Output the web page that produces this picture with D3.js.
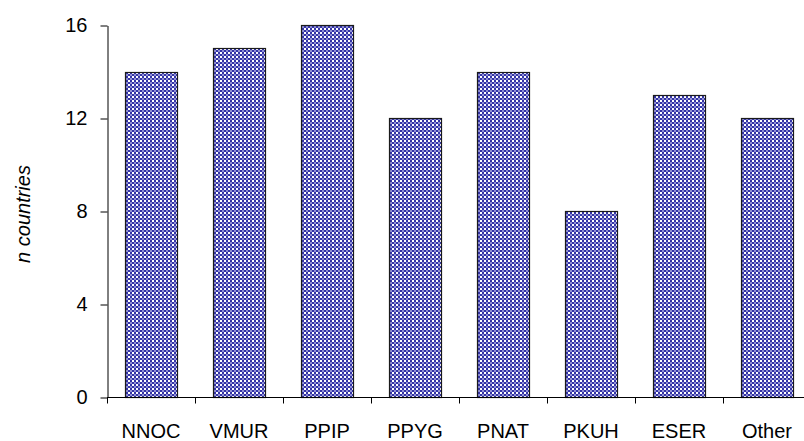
<!DOCTYPE html>
<html>
<head>
<meta charset="utf-8">
<script src="https://cdn.jsdelivr.net/npm/d3@7/dist/d3.min.js"></script>
<style>
  html, body { margin: 0; padding: 0; background: #fff; }
  svg { display: block; font-family: "Liberation Sans", Arial, sans-serif; }
</style>
</head>
<body>
<script>
// Species codes along the x axis
const categories = ["NNOC", "VMUR", "PPIP", "PPYG", "PNAT", "PKUH", "ESER", "Other"];
// Number of countries per species
const countries = [14, 15, 16, 12, 14, 8, 13, 12];
// Y-axis tick values
const yTicks = [0, 4, 8, 12, 16];

const width = 804, height = 441;
const plot = { left: 107, right: 811, top: 25, bottom: 397 };
const fontSize = 20;

const svg = d3.select("body").append("svg")
  .attr("width", width).attr("height", height);

// Checkered fill for the bars
const defs = svg.append("defs");
const pat = defs.append("pattern")
  .attr("id", "checker")
  .attr("patternUnits", "userSpaceOnUse")
  .attr("width", 4).attr("height", 4);
pat.append("rect").attr("width", 4).attr("height", 4).attr("fill", "#3434a6");
pat.append("rect").attr("x", 0).attr("y", 0).attr("width", 2).attr("height", 2).attr("fill", "#ffffff");
pat.append("rect").attr("x", 2).attr("y", 2).attr("width", 2).attr("height", 2).attr("fill", "#9090d4");

const x = d3.scaleBand()
  .domain(categories)
  .range([plot.left, plot.right])
  .paddingInner(36 / 88)
  .paddingOuter(18 / 88);

const y = d3.scaleLinear()
  .domain([0, 16])
  .range([plot.bottom, plot.top]);

// Bars
svg.append("g").selectAll("rect")
  .data(categories.map((c, i) => ({ c, v: countries[i] })))
  .join("rect")
  .attr("x", d => Math.round(x(d.c)) + 0.5)
  .attr("y", d => Math.round(y(d.v)) + 0.5)
  .attr("width", Math.round(x.bandwidth()))
  .attr("height", d => Math.round(y(0)) - Math.round(y(d.v)))
  .attr("fill", "url(#checker)")
  .attr("stroke", "#1a1a1a")
  .attr("stroke-width", 1.2);

// Y axis
const yAxis = d3.axisLeft(y).tickValues(yTicks).tickSize(7).tickPadding(13).tickSizeOuter(0);
const gy = svg.append("g")
  .attr("transform", `translate(${plot.left + 0.5},0.5)`)
  .call(yAxis);
gy.select(".domain").attr("stroke", "#000");
gy.selectAll(".tick line").attr("stroke", "#000");
gy.selectAll(".tick text")
  .attr("font-size", fontSize).attr("fill", "#000")
  .attr("font-family", "Liberation Sans, Arial, sans-serif");

// X axis: ticks sit on band boundaries
const xAxisLine = svg.append("g").attr("transform", `translate(0,${plot.bottom + 0.5})`);
xAxisLine.append("line")
  .attr("x1", plot.left).attr("x2", plot.right)
  .attr("stroke", "#000");
const bandStep = x.step();
const boundaries = categories.slice(1).map(c => x(c) - x.paddingInner() * bandStep / 2);
xAxisLine.selectAll("line.tk")
  .data([plot.left].concat(boundaries))
  .join("line").attr("class", "tk")
  .attr("x1", d => Math.round(d) + 0.5).attr("x2", d => Math.round(d) + 0.5)
  .attr("y1", 0).attr("y2", 6)
  .attr("stroke", "#000");
xAxisLine.selectAll("text")
  .data(categories)
  .join("text")
  .attr("x", d => x(d) + x.bandwidth() / 2)
  .attr("y", 40)
  .attr("text-anchor", "middle")
  .attr("font-size", fontSize)
  .attr("fill", "#000")
  .text(d => d);

// Y axis title
svg.append("text")
  .attr("transform", `translate(30,${(plot.top + plot.bottom) / 2 + 3}) rotate(-90)`)
  .attr("text-anchor", "middle")
  .attr("font-size", fontSize)
  .attr("font-style", "italic")
  .attr("fill", "#000")
  .text("n countries");
</script>
</body>
</html>
